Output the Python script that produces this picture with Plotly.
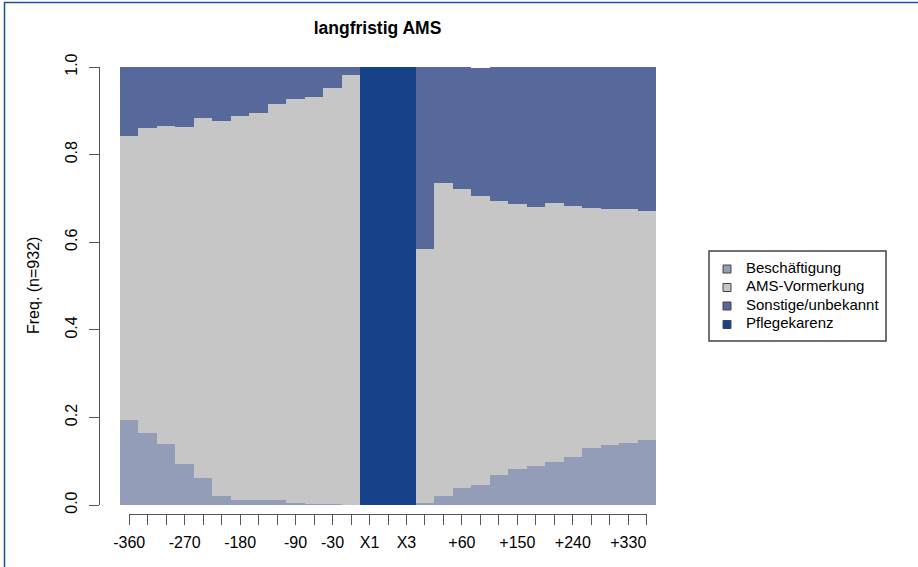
import plotly.graph_objects as go

# ---- data ----
categories = ["-360", "-330", "-300", "-270", "-240", "-210", "-180", "-150", "-120", "-90", "-60", "-30", "0",
              "X1", "X2", "X3",
              "+0", "+30", "+60", "+90", "+120", "+150", "+180", "+210", "+240", "+270", "+300", "+330", "+360"]
shown_labels = ["-360", "-270", "-180", "-90", "-30", "X1", "X3", "+60", "+150", "+240", "+330"]

state_names = ["Beschäftigung", "AMS-Vormerkung", "Sonstige/unbekannt", "Pflegekarenz"]
state_colors = ["#939DB8", "#C6C6C6", "#56699A", "#17428A"]

beschaeftigung = [0.194, 0.164, 0.139, 0.094, 0.062, 0.021, 0.011, 0.011, 0.011, 0.005, 0.003, 0.002, 0.000,
                  0.0, 0.0, 0.0,
                  0.005, 0.021, 0.039, 0.046, 0.068, 0.082, 0.089, 0.098, 0.110, 0.130, 0.137, 0.142, 0.148]
ams_vormerkung = [0.648, 0.697, 0.726, 0.769, 0.822, 0.856, 0.877, 0.884, 0.905, 0.922, 0.929, 0.950, 0.982,
                  0.0, 0.0, 0.0,
                  0.579, 0.714, 0.682, 0.659, 0.626, 0.605, 0.591, 0.591, 0.573, 0.548, 0.539, 0.534, 0.523]
sonstige = [0.158, 0.139, 0.135, 0.137, 0.116, 0.123, 0.112, 0.105, 0.084, 0.073, 0.068, 0.048, 0.018,
            0.0, 0.0, 0.0,
            0.416, 0.265, 0.279, 0.293, 0.306, 0.313, 0.320, 0.311, 0.317, 0.322, 0.324, 0.324, 0.329]
pflegekarenz = [0.0] * 13 + [1.0, 1.0, 1.0] + [0.0] * 13

series = [beschaeftigung, ams_vormerkung, sonstige, pflegekarenz]

yticks = [0.0, 0.2, 0.4, 0.6, 0.8, 1.0]

# ---- geometry (pixels) ----
W, H = 918, 567
L, R, T, B = 99, 32, 67, 53
pw = W - L - R
ph = H - T - B
bar_left, bar_right = 120, 656
n = len(categories)
step = (bar_right - bar_left) / n
first_c = bar_left + 0.5 * step
last_c = bar_left + (n - 0.5) * step
# legend box (pixels)
lg_l, lg_r, lg_t, lg_b = 709, 886, 251, 341
row0, row_h = 269, 18.5


def px(xp):
    return (xp - L) / pw


def py(yp):
    return (H - B - yp) / ph


FONT = "Liberation Sans, Arial, Helvetica, sans-serif"
AXC = "#555555"

fig = go.Figure()
xidx = list(range(n))
for name, vals, col in zip(state_names, series, state_colors):
    fig.add_trace(go.Bar(x=xidx, y=vals, name=name, marker=dict(color=col, line=dict(width=0)),
                         width=1.0, showlegend=False, hoverinfo="name+y"))

# invisible trace so the tick axis is drawn
fig.add_trace(go.Scatter(x=[None], y=[None], mode="markers", xaxis="x2", yaxis="y",
                         showlegend=False, hoverinfo="skip"))

# legend (own small panel)
rows = list(range(len(state_names)))
fig.add_trace(go.Scatter(x=[18] * len(rows), y=rows, mode="markers", xaxis="x3", yaxis="y3",
                         marker=dict(symbol="square", size=8, color=state_colors,
                                     line=dict(color="#444444", width=1)),
                         showlegend=False, hoverinfo="skip"))
fig.add_trace(go.Scatter(x=[37] * len(rows), y=rows, mode="text", text=state_names,
                         textposition="middle right", xaxis="x3", yaxis="y3",
                         textfont=dict(size=15, family=FONT, color="black"),
                         showlegend=False, hoverinfo="skip"))

ticktext = [c if c in shown_labels else "" for c in categories]

fig.update_layout(
    width=W, height=H,
    margin=dict(l=L, r=R, t=T, b=B, pad=0),
    paper_bgcolor="white", plot_bgcolor="rgba(0,0,0,0)",
    barmode="stack", bargap=0,
    font=dict(family=FONT, color="black"),
    showlegend=False,
    title=dict(text="<b>langfristig AMS</b>", x=px(377.5), xref="paper", xanchor="center",
               y=1 - 28 / H, yref="container", yanchor="middle",
               font=dict(size=17.5, family=FONT, color="black")),
    xaxis=dict(domain=[px(bar_left), px(bar_right)], range=[-0.5, n - 0.5], visible=False, fixedrange=True),
    xaxis2=dict(anchor="free", position=0,
                domain=[px(first_c), px(last_c)], range=[0, n - 1],
                tickmode="array", tickvals=xidx, ticktext=ticktext,
                ticks="outside", ticklen=10, tickwidth=1, tickcolor=AXC,
                showline=True, linecolor=AXC, linewidth=1, showgrid=False, zeroline=False,
                tickfont=dict(size=16, family=FONT, color="black"), ticklabelstandoff=4,
                tickangle=0, fixedrange=True),
    yaxis=dict(domain=[py(bar_right * 0 + 505), 1], range=[0, 1], anchor="free", position=0,
               tickmode="array", tickvals=yticks, ticktext=[f"{v:.1f}" for v in yticks],
               ticks="outside", ticklen=10, tickwidth=1, tickcolor=AXC,
               showline=True, linecolor=AXC, linewidth=1, showgrid=False, zeroline=False,
               tickangle=-90, tickfont=dict(size=16, family=FONT, color="black"),
               ticklabelstandoff=6, fixedrange=True),
    xaxis3=dict(domain=[px(lg_l), px(lg_r)], range=[0, lg_r - lg_l], anchor="y3",
                visible=False, fixedrange=True),
    yaxis3=dict(domain=[py(lg_b), py(lg_t)],
                range=[(lg_b - row0) / row_h, (lg_t - row0) / row_h], anchor="x3",
                visible=False, fixedrange=True),
)

# legend frame
fig.add_shape(type="rect", xref="x3 domain", yref="y3 domain", x0=0, x1=1, y0=0, y1=1,
              line=dict(color="#444444", width=1.5), fillcolor="rgba(0,0,0,0)", layer="below")

fig.add_annotation(text="Freq. (n=932)", textangle=-90, xref="paper", yref="paper",
                   x=px(33), y=py(286), xanchor="center", yanchor="middle",
                   showarrow=False, font=dict(size=16, family=FONT, color="black"))

# outer frame of the picture
fig.add_shape(type="rect", xref="paper", yref="paper",
              x0=px(4.5), x1=px(W + 20), y0=py(H + 20), y1=py(2.5),
              line=dict(color="#1F4EA0", width=1.5), fillcolor="rgba(0,0,0,0)", layer="below")

fig.write_html("out.html", config={"displayModeBar": False},
               post_script="document.body.style.margin='0';")
